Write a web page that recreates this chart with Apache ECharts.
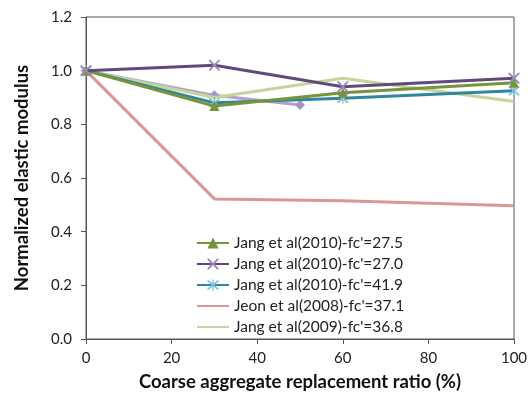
<!DOCTYPE html>
<html><head><meta charset="utf-8">
<script src="https://cdn.jsdelivr.net/npm/echarts@6/dist/echarts.min.js"></script>
<style>html,body{margin:0;padding:0;background:#fff}#c{width:531px;height:393px}</style>
</head><body><div id="c"></div>
<script>
var seriesNames = ["Jang et al(2010)-fc'=27.5","Jang et al(2010)-fc'=27.0","Jang et al(2010)-fc'=41.9","Jeon et al(2008)-fc'=37.1","Jang et al(2009)-fc'=36.8"];
var jang2010a_x = [0, 30, 60, 100];
var jang2010a_y = [1.0, 0.868, 0.918, 0.955];
var jang2010b_x = [0, 30, 60, 100];
var jang2010b_y = [1.0, 1.02, 0.94, 0.972];
var jang2010c_x = [0, 30, 60, 100];
var jang2010c_y = [1.0, 0.88, 0.897, 0.925];
var jeon2008_x = [0, 30, 60, 100];
var jeon2008_y = [1.0, 0.522, 0.515, 0.497];
var jang2009_x = [0, 30, 60, 100];
var jang2009_y = [1.0, 0.90, 0.972, 0.885];
var extra_x = [0, 30, 50];
var extra_y = [1.0, 0.908, 0.872];
var yTicks = [0, 0.2, 0.4, 0.6, 0.8, 1.0, 1.2];
var xTicks = [0, 20, 40, 60, 80, 100];

function pts(xs, ys){ return xs.map(function(x,i){return [x, ys[i]];}); }
var X_PATH = 'path://M0,0 L1.2,0 L5,3.8 L8.8,0 L10,0 L10,1.2 L6.2,5 L10,8.8 L10,10 L8.8,10 L5,6.2 L1.2,10 L0,10 L0,8.8 L3.8,5 L0,1.2 Z';
var AST_PATH = 'path://M0,0 L1.2,0 L5,3.8 L8.8,0 L10,0 L10,1.2 L6.2,5 L10,8.8 L10,10 L8.8,10 L5,6.2 L1.2,10 L0,10 L0,8.8 L3.8,5 L0,1.2 Z M4.4,-1 L5.6,-1 L5.6,11 L4.4,11 Z';

var font = 'Lato, "Open Sans", sans-serif';
var chart = echarts.init(document.getElementById('c'), null, {renderer:'canvas'});
function mk(name, xs, ys, color, symbol, size, markerColor, z){
  return {
    name: name, type: 'line', data: pts(xs, ys), z: z,
    symbol: symbol || 'none', symbolSize: size || 0, showSymbol: !!symbol,
    lineStyle: {color: color, width: 3},
    itemStyle: {color: markerColor || color},
    animation: false
  };
}
var legendData = seriesNames.map(function(n, i){
  return (i >= 3) ? {name: n, itemStyle: {opacity: 0}} : {name: n};
});
chart.setOption({
  backgroundColor: '#fff',
  animation: false,
  grid: {left: 86, right: 17, top: 17, bottom: 54, show: true, borderColor: '#555', borderWidth: 1,
         containLabel: false, outerBoundsMode: 'none'},
  legend: {
    orient: 'vertical', left: 196, top: 235, itemGap: 5, itemWidth: 32, itemHeight: 14,
    padding: 0,
    textStyle: {fontFamily: font, fontSize: 15.5, color: '#222', lineHeight: 14},
    data: legendData
  },
  xAxis: {
    type: 'value', min: 0, max: 100, interval: 20,
    name: 'Coarse aggregate replacement ratio (%)', nameLocation: 'middle', nameGap: 34,
    nameTextStyle: {fontFamily: font, fontSize: 18.5, fontWeight: 'bold', color: '#111'},
    axisLine: {show: true, lineStyle: {color: '#555', width: 1}},
    axisTick: {show: true, length: 5, lineStyle: {color: '#555'}},
    axisLabel: {fontFamily: font, fontSize: 15, color: '#222', margin: 12},
    splitLine: {show: false}
  },
  yAxis: {
    type: 'value', min: 0, max: 1.2, interval: 0.2,
    name: 'Normalized elastic modulus', nameLocation: 'middle', nameGap: 54,
    nameTextStyle: {fontFamily: font, fontSize: 18.5, fontWeight: 'bold', color: '#111'},
    axisLine: {show: true, lineStyle: {color: '#555', width: 1}},
    axisTick: {show: true, length: 5, lineStyle: {color: '#555'}},
    axisLabel: {fontFamily: font, fontSize: 15, color: '#222', margin: 14,
      formatter: function(v){ return v.toFixed(1); }},
    splitLine: {show: false}
  },
  series: [
    mk('extra', extra_x, extra_y, '#B3A2C7', 'diamond', 10, '#A896C0', 1),
    mk(seriesNames[3], jeon2008_x, jeon2008_y, '#D99694', null, 0, null, 2),
    mk(seriesNames[4], jang2009_x, jang2009_y, '#C3D69B', null, 0, null, 3),
    mk(seriesNames[2], jang2010c_x, jang2010c_y, '#31859C', AST_PATH, 11, '#7FC4D6', 4),
    mk(seriesNames[0], jang2010a_x, jang2010a_y, '#77933C', 'triangle', 10, '#77933C', 5),
    mk(seriesNames[1], jang2010b_x, jang2010b_y, '#604A7B', X_PATH, 11, '#9C88B8', 6)
  ]
});
</script>
</body></html>
